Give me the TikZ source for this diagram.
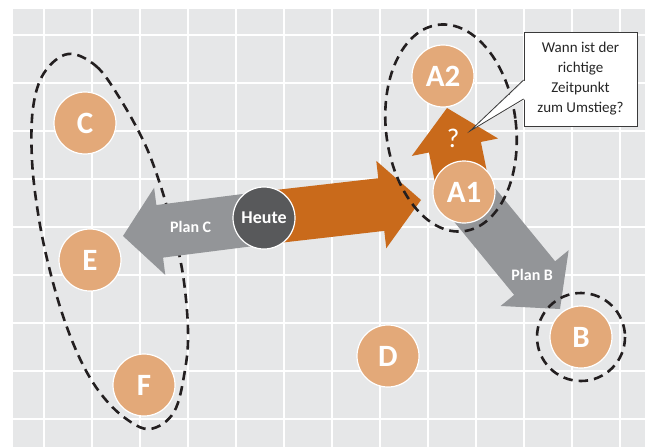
\documentclass[tikz,border=0pt]{standalone}
\usepackage{fontspec}
\setmainfont{Carlito}
\usetikzlibrary{calc}

\definecolor{bgGray}{HTML}{E6E7E8}
\definecolor{dotOrange}{HTML}{E3A979}
\definecolor{arrOrange}{HTML}{C96A1B}
\definecolor{arrGray}{HTML}{939598}
\definecolor{nowGray}{HTML}{58595B}
\definecolor{dashInk}{HTML}{231F20}
\definecolor{boxEdge}{HTML}{3A3A3A}
\definecolor{boxText}{HTML}{262626}

\pgfdeclarelayer{base}
\pgfdeclarelayer{lowring}
\pgfdeclarelayer{arrowlayer}
\pgfdeclarelayer{ringlayer}
\pgfsetlayers{base,lowring,arrowlayer,ringlayer,main}

\tikzset{
  gridline/.style={white, line width=1.3pt},
  option/.style={circle, minimum size=62pt, inner sep=0pt, fill=dotOrange,
    draw=white, line width=1.2pt, text=white,
    font=\bfseries\fontsize{31}{31}\selectfont},
  nowdot/.style={option, fill=nowGray, font=\bfseries\fontsize{18}{18}\selectfont},
  grouping/.style={draw=dashInk, line width=2.6pt, dash pattern=on 9.5pt off 6pt},
  armlabel/.style={text=white, font=\bfseries\fontsize{16}{16}\selectfont},
  qlabel/.style={text=white, font=\fontsize{27}{27}\selectfont},
  callout/.style={rectangle, draw=boxEdge, fill=white, line width=0.8pt,
    minimum width=113pt, minimum height=94pt, inner sep=0pt, align=center,
    text=boxText, font=\fontsize{15}{20}\selectfont},
}

% block arrow: [head length]{colour}{start}{tip}
\newcommand{\blockarrow}[4][40pt]{%
  \fill[#2] ($(#3)!26.5pt!90:(#4)$)
    -- ($(#4)!#1!(#3)!26.5pt!90:(#4)$)
    -- ($(#4)!#1!(#3)!44pt!90:(#4)$)
    -- (#4)
    -- ($(#4)!#1!(#3)!44pt!-90:(#4)$)
    -- ($(#4)!#1!(#3)!26.5pt!-90:(#4)$)
    -- ($(#3)!26.5pt!-90:(#4)$) -- cycle;}

\begin{document}
\begin{tikzpicture}[x=1pt,y=-1pt]
\useasboundingbox (0,0) rectangle (645,447);

% canvas with grid
\begin{pgfonlayer}{base}
  \fill[bgGray] (13,9) rectangle (645,447);
  \foreach \gx in {44,92,...,620} \draw[gridline] (\gx,9) -- (\gx,447);
  \foreach \gy in {35,83,...,419} \draw[gridline] (13,\gy) -- (645,\gy);
\end{pgfonlayer}

% options
\node[option] (C)  at (85,123)  {C};
\node[option] (E)  at (90,260)  {E};
\node[option] (F)  at (144,385) {F};
\node[option] (D)  at (388,356) {D};
\node[option] (B)  at (581,337) {B};
\node[option] (A2) at (443,76)  {A2};
\node[option] (A1) at (464,192) {A1};
\node[nowdot] (now) at (264,218) {Heute};

% arrow tips
\coordinate (tipA) at (421,200);
\coordinate (tipC) at (123,236);
\coordinate (tipB) at (560,309);
\coordinate (tipQ) at (447,108);

% group around C, E, F
\begin{pgfonlayer}{lowring}
  \draw[grouping] plot[smooth cycle, tension=0.6] coordinates {
    (68,54) (96,66) (119,97) (143,140) (158,178) (172,225) (183,275)
    (188,330) (185,370) (174,412) (150,429) (125,418) (101,394)
    (81,361) (63,316) (48,263) (38,213) (32,160) (33,108) (44,73)};
\end{pgfonlayer}

% paths
\begin{pgfonlayer}{arrowlayer}
  \blockarrow{arrOrange}{now.center}{tipA}
  \blockarrow[37pt]{arrGray}{now.center}{tipC}
  \blockarrow{arrGray}{A1.center}{tipB}
  \blockarrow{arrOrange}{A1.center}{tipQ}
\end{pgfonlayer}

% groups around A1/A2 and B
\begin{pgfonlayer}{ringlayer}
  \draw[grouping, rotate around={7:(451,128)}] (451,128) ellipse [x radius=65, y radius=104];
  \draw[grouping] (B.center) circle [radius=44];
\end{pgfonlayer}

\node[armlabel] at ($(now.center)!0.52!(tipC)$) {Plan C};
\node[armlabel] at ($(A1.center)!0.71!(tipB)$) {Plan B};
\node[qlabel] at ($(A1.center)!0.64!(tipQ)$) {?};

% speech bubble
\node[callout] (ask) at (580.5,79) {Wann ist der\\richtige\\Zeitpunkt\\zum Umstieg?};
\coordinate (askTip) at (470,131);
\fill[white] ($(ask.west)+(2,1)$) -- (askTip) -- ($(ask.west)+(2,20)$) -- cycle;
\draw[boxEdge, line width=0.8pt] ($(ask.west)+(0,1)$) -- (askTip) -- ($(ask.west)+(0,20)$);
\end{tikzpicture}
\end{document}
